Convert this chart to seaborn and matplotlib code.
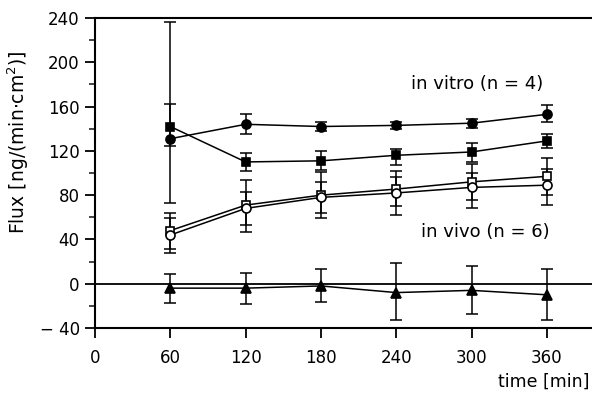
import matplotlib
matplotlib.use("Agg")
import matplotlib.pyplot as plt
from matplotlib.ticker import MultipleLocator
import seaborn as sns
import numpy as np
import pandas as pd

# ---- data ----
time = [60, 120, 180, 240, 300, 360]

vitro_circle = [131, 144, 142, 143, 145, 153]
vitro_circle_hi = [162, 153, 146, 146, 149, 161]
vitro_circle_lo = [124, 135, 138, 140, 141, 146]

vitro_square = [142, 110, 111, 116, 119, 129]
vitro_square_hi = [236, 118.5, 119.5, 122, 127, 135]
vitro_square_lo = [73, 102, 103, 107.5, 109.5, 122.5]

vivo_square = [48, 71, 80, 85.5, 92, 97]
vivo_square_hi = [64, 94, 100.5, 101.5, 108, 113.5]
vivo_square_lo = [31, 53, 64, 70, 76, 80]

vivo_circle = [44, 68, 78, 82, 87, 89]
vivo_circle_hi = [59.6, 83, 92, 96, 100, 104]
vivo_circle_lo = [28, 47, 59, 62, 68, 71]

diff_tri = [-4, -4, -2, -8, -6, -10]
diff_tri_hi = [9, 10, 13.5, 18.7, 15.6, 13.5]
diff_tri_lo = [-17.5, -18, -16.5, -32.5, -27.4, -32.5]

x_ticks = [0, 60, 120, 180, 240, 300, 360]
y_ticks = [-40, 0, 40, 80, 120, 160, 200, 240]

series = [
    ("vitro_circle", vitro_circle, vitro_circle_lo, vitro_circle_hi, "o", "black"),
    ("vitro_square", vitro_square, vitro_square_lo, vitro_square_hi, "s", "black"),
    ("vivo_square", vivo_square, vivo_square_lo, vivo_square_hi, "s", "white"),
    ("vivo_circle", vivo_circle, vivo_circle_lo, vivo_circle_hi, "o", "white"),
    ("diff_tri", diff_tri, diff_tri_lo, diff_tri_hi, "^", "black"),
]

sns.set_style("ticks")
plt.rcParams["font.family"] = ["DejaVu Sans"]
plt.rcParams["text.color"] = "black"
plt.rcParams["axes.labelcolor"] = "black"

fig = plt.figure(figsize=(5.92, 3.95), dpi=100)
ax = fig.add_axes([0.1605, 0.1696, 0.8395, 0.7848])

ax.axhline(0, color="black", lw=1.3, zorder=1)

for name, vals, lo, hi, mk, fc in series:
    df = pd.DataFrame({"time": time, "flux": vals})
    v = np.array(vals, dtype=float)
    yerr = np.vstack([v - np.array(lo, dtype=float), np.array(hi, dtype=float) - v])
    ax.errorbar(time, vals, yerr=yerr, fmt="none", ecolor="black",
                elinewidth=1.1, capsize=4.5, capthick=1.1, zorder=2)
    sns.lineplot(data=df, x="time", y="flux", ax=ax, color="black", lw=1.1,
                 marker=mk, markersize=6.5 if mk != "s" else 6,
                 markerfacecolor=fc, markeredgecolor="black", markeredgewidth=1.2,
                 zorder=3, legend=False)

ax.set_xlim(0, 396)
ax.set_ylim(-40, 240)
ax.set_xticks(x_ticks)
ax.set_yticks(y_ticks)
ax.set_yticklabels(["\u2212 40" if t == -40 else str(t) for t in y_ticks])
ax.yaxis.set_minor_locator(MultipleLocator(20))

for s in ["left", "top", "bottom"]:
    ax.spines[s].set_linewidth(1.5)
    ax.spines[s].set_color("black")
ax.spines["right"].set_visible(False)

ax.tick_params(axis="both", which="major", direction="out", length=7, width=1.3,
               labelsize=12, colors="black", pad=4)
ax.tick_params(axis="y", which="minor", direction="out", length=4, width=1.2)
ax.tick_params(axis="x", which="major", pad=8)

ax.set_xlabel("")
ax.set_ylabel("Flux [ng/(min$\\cdot$cm$^2$)]", fontsize=13.5)
ax.yaxis.set_label_coords(-0.128, 0.60)
ax.text(0.995, -0.174, "time [min]", transform=ax.transAxes, ha="right", va="center",
        fontsize=12.5)

ax.text(252, 180, "in vitro (n = 4)", ha="left", va="center", fontsize=13)
ax.text(260, 47, "in vivo (n = 6)", ha="left", va="center", fontsize=13)

fig.savefig("out.png", dpi=100)
